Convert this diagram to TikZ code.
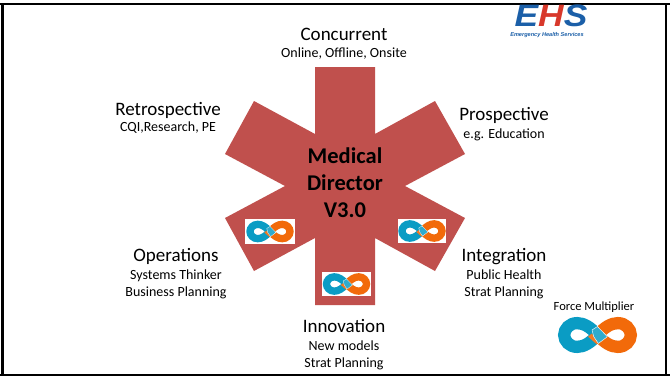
\documentclass[tikz,border=0pt]{standalone}
\usepackage{fontspec}
\setmainfont{Carlito}
\newfontfamily\logofont{Liberation Sans}
\definecolor{starred}{HTML}{C0504D}
\definecolor{lblue}{HTML}{0A9CC4}
\definecolor{lorange}{HTML}{F26A0A}
\definecolor{ehsblue}{HTML}{1B5FA8}
\definecolor{ehsred}{HTML}{D8382B}
\tikzset{
  x=1pt,y=-1pt,
  big/.style={font=\fontsize{19}{21}\selectfont,anchor=center,inner sep=0},
  small/.style={font=\fontsize{14}{17}\selectfont,align=center,anchor=center,inner sep=0},
}
\newcommand{\infsign}[2]{%
  \begin{scope}[shift={(#1)},scale=#2]
    \draw[lblue,line width=#2*7.2pt] (0,0) .. controls (-4,-4.5) and (-8,-7) .. (-12,-7) .. controls (-16.5,-7) and (-19.6,-3.5) .. (-19.6,0) .. controls (-19.6,3.5) and (-16.5,7) .. (-12,7) .. controls (-8,7) and (-4,4.5) .. (0,0);
    \draw[lorange,line width=#2*7.2pt] (0,0) .. controls (4,4.5) and (8,7) .. (12,7) .. controls (16.5,7) and (19.6,3.5) .. (19.6,0) .. controls (19.6,-3.5) and (16.5,-7) .. (12,-7) .. controls (8,-7) and (4,-4.5) .. (0,0);
    \fill[lorange!90] (-5.5,1) -- (-3.5,-.8) -- (1.2,3.5) -- (-.5,5.4) -- cycle;
    \fill[lblue!85,draw=white,line width=#2*.25pt] (-3.2,-3) -- (0,-5) -- (5.8,1) -- (.5,5) -- (-2.2,1) -- cycle;
  \end{scope}}
\newcommand{\whitebox}[4]{\fill[white] (#1,#2) rectangle (#3,#4);}
\begin{document}
\begin{tikzpicture}
\useasboundingbox (0,0) rectangle (670,381);
\fill[white] (0,0) rectangle (670,381);
\draw[black,line width=2.6] (-3,4) -- (673,4) (-3,375) -- (673,375) (2.5,4) -- (2.5,375) (666,4) -- (666,375);
\fill[starred] (315,67) -- (375,67) -- (375,134) -- (435,101) -- (465,154) -- (405,186) -- (465,218) -- (435,271) -- (375,238) -- (375,305) -- (315,305) -- (315,238) -- (254,271) -- (225,218) -- (285,186) -- (225,154) -- (254,101) -- (315,134) -- cycle;
\node (core) at (345,183) [font=\fontsize{22.5}{27}\selectfont\bfseries,align=center,inner sep=0] {Medical\\Director\\V3.0};
\node[big] (n1) at (344,34) {Concurrent};
\node[small] (n1s) at (344,54) {Online, Offline, Onsite};
\node[big] (n2) at (168,110.5) {Retrospective};
\node[small] (n2s) at (168,128) {CQI,Research, PE};
\node[big] (n3) at (504,115.5) {Prospective};
\node[small] (n3s) at (504,135) {e.g. Education};
\node[big] (n4) at (176,256.5) {Operations};
\node[small] (n4s) at (176,284) {Systems Thinker\\Business Planning};
\node[big] (n5) at (504,256.5) {Integration};
\node[small] (n5s) at (504,284) {Public Health\\Strat Planning};
\node[big] (n6) at (344,326) {Innovation};
\node[small] (n6s) at (344,355) {New models\\Strat Planning};
\whitebox{245}{219}{295}{244}
\whitebox{398}{219}{446}{243}
\whitebox{322}{272}{371}{296}
\infsign{270,231.5}{1.02}
\infsign{422,231}{1.02}
\infsign{346.5,284}{1.02}
\node[font=\fontsize{12.5}{14}\selectfont,inner sep=0] (fm) at (594,307) {Force Multiplier};
\infsign{597.5,335}{1.7}
\node[font=\logofont\fontsize{31}{31}\selectfont\bfseries\itshape,text=ehsblue,inner sep=0,xscale=1.14] (ehs) at (551,16) {E\textcolor{ehsred}{H}S};
\node[font=\logofont\fontsize{5.6}{5.6}\selectfont\bfseries\itshape,text=ehsblue,inner sep=0] (ehsl) at (547,35) {Emergency Health Services};
\end{tikzpicture}
\end{document}
